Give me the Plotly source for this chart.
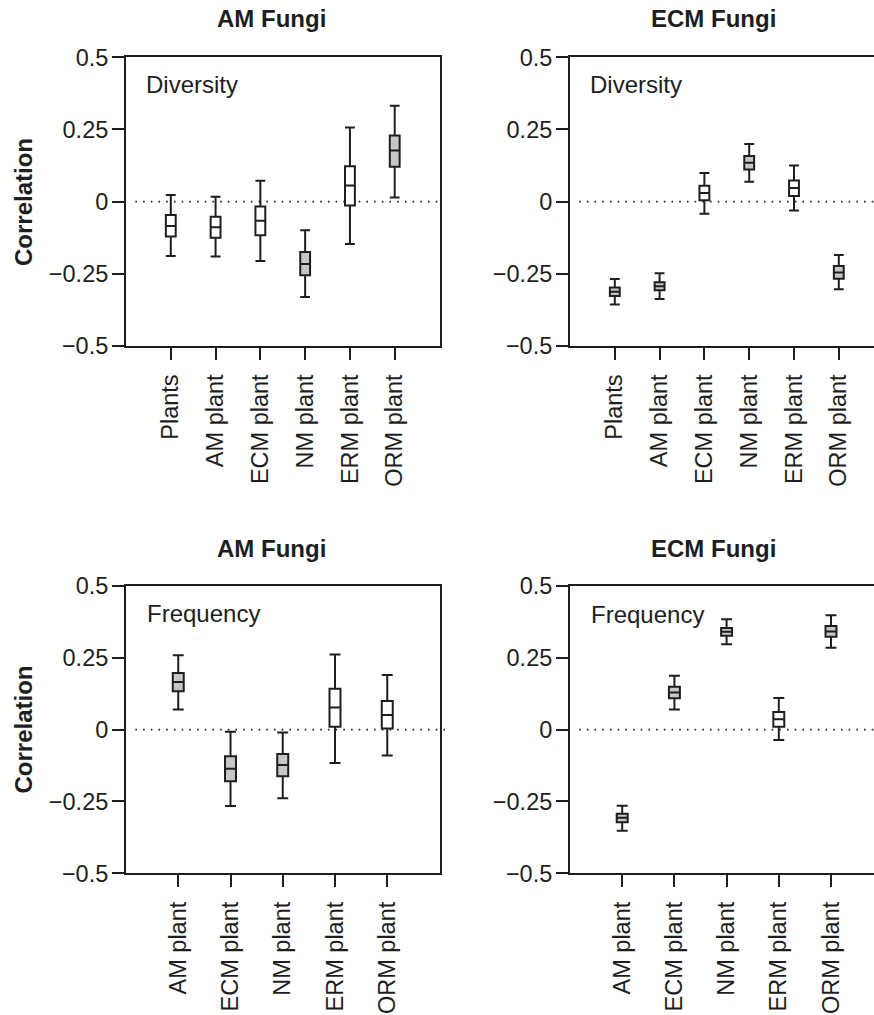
import plotly.graph_objects as go

# ---------------- data ----------------
top_cats = ["Plants", "AM plant", "ECM plant", "NM plant", "ERM plant", "ORM plant"]
bottom_cats = ["AM plant", "ECM plant", "NM plant", "ERM plant", "ORM plant"]

# AM Fungi - Diversity
am_div_low = [-0.188, -0.190, -0.206, -0.330, -0.147, 0.014]
am_div_q1 = [-0.121, -0.125, -0.116, -0.255, -0.013, 0.121]
am_div_med = [-0.084, -0.089, -0.066, -0.216, 0.056, 0.177]
am_div_q3 = [-0.046, -0.052, -0.017, -0.174, 0.123, 0.229]
am_div_high = [0.023, 0.017, 0.072, -0.099, 0.257, 0.332]
am_div_sig = [False, False, False, True, False, True]

# ECM Fungi - Diversity
ecm_div_low = [-0.356, -0.337, -0.042, 0.069, -0.031, -0.303]
ecm_div_q1 = [-0.327, -0.307, 0.005, 0.111, 0.020, -0.267]
ecm_div_med = [-0.312, -0.293, 0.030, 0.135, 0.047, -0.245]
ecm_div_q3 = [-0.297, -0.279, 0.055, 0.158, 0.073, -0.223]
ecm_div_high = [-0.268, -0.248, 0.099, 0.200, 0.125, -0.185]
ecm_div_sig = [True, True, False, True, False, True]

# AM Fungi - Frequency
am_freq_low = [0.070, -0.266, -0.239, -0.116, -0.090]
am_freq_q1 = [0.134, -0.180, -0.162, 0.010, 0.004]
am_freq_med = [0.166, -0.136, -0.123, 0.077, 0.051]
am_freq_q3 = [0.197, -0.093, -0.085, 0.142, 0.100]
am_freq_high = [0.259, -0.007, -0.010, 0.262, 0.190]
am_freq_sig = [True, True, True, False, False]

# ECM Fungi - Frequency
ecm_freq_low = [-0.352, 0.070, 0.297, -0.036, 0.285]
ecm_freq_q1 = [-0.322, 0.109, 0.327, 0.010, 0.323]
ecm_freq_med = [-0.307, 0.129, 0.341, 0.036, 0.342]
ecm_freq_q3 = [-0.293, 0.149, 0.354, 0.061, 0.361]
ecm_freq_high = [-0.265, 0.188, 0.384, 0.110, 0.398]
ecm_freq_sig = [True, True, True, False, True]

y_tickvals = [-0.5, -0.25, 0, 0.25, 0.5]
y_ticktext = ["\u22120.5", "\u22120.25", "0", "0.25", "0.5"]

# ---------------- layout helpers ----------------
W, H = 874, 1015
FONT = "Liberation Sans, Arial, Helvetica, sans-serif"
INK = "#1e1e1e"
GRAY = "#c6c6c6"


def px(x):
    return x / W


def py(y):
    return 1 - y / H


fig = go.Figure()

panels = [
    # (cats, low, q1, med, q3, high, sig, xaxis, yaxis, width)
    (top_cats, am_div_low, am_div_q1, am_div_med, am_div_q3, am_div_high, am_div_sig, "x", "y", 0.22),
    (top_cats, ecm_div_low, ecm_div_q1, ecm_div_med, ecm_div_q3, ecm_div_high, ecm_div_sig, "x2", "y2", 0.22),
    (bottom_cats, am_freq_low, am_freq_q1, am_freq_med, am_freq_q3, am_freq_high, am_freq_sig, "x3", "y3", 0.21),
    (bottom_cats, ecm_freq_low, ecm_freq_q1, ecm_freq_med, ecm_freq_q3, ecm_freq_high, ecm_freq_sig, "x4", "y4", 0.21),
]

for cats, low, q1, med, q3, high, sig, xa, ya, bw in panels:
    for i, c in enumerate(cats):
        fig.add_trace(go.Box(
            x=[c], q1=[q1[i]], median=[med[i]], q3=[q3[i]],
            lowerfence=[low[i]], upperfence=[high[i]],
            fillcolor=GRAY if sig[i] else "white",
            line=dict(color=INK, width=2),
            width=bw, whiskerwidth=1,
            boxpoints=False, showlegend=False, hoverinfo="skip",
            xaxis=xa, yaxis=ya,
        ))

# domains (pixel-measured)
xl = [px(126), px(439.5)]
xr = [px(570), 1.0]
yt = [py(346), py(57.3)]
yb = [py(873.3), py(586)]

axis_common = dict(
    showline=True, linecolor=INK, linewidth=2,
    ticks="outside", ticklen=12, tickwidth=2, tickcolor=INK,
    tickfont=dict(family=FONT, size=23.5, color=INK),
    showgrid=False, zeroline=False, automargin=False, fixedrange=True,
)

x_common = dict(axis_common, type="category", tickangle=-90, ticklabelstandoff=5)
y_common = dict(axis_common, range=[-0.5, 0.5], tickvals=y_tickvals, ticktext=y_ticktext,
                ticklabelstandoff=-1)

fig.update_layout(
    xaxis=dict(x_common, domain=xl, range=[-1, 6], categoryorder="array",
               categoryarray=top_cats, anchor="y", mirror=True),
    yaxis=dict(y_common, domain=yt, anchor="x", mirror=True),
    xaxis2=dict(x_common, domain=xr, range=[-1, (874 - 570) / 44.8 - 1], categoryorder="array",
                categoryarray=top_cats, anchor="y2", mirror=True),
    yaxis2=dict(y_common, domain=yt, anchor="x2", mirror=False),
    xaxis3=dict(x_common, domain=xl, range=[-1, 5], categoryorder="array",
                categoryarray=bottom_cats, anchor="y3", mirror=True),
    yaxis3=dict(y_common, domain=yb, anchor="x3", mirror=True),
    xaxis4=dict(x_common, domain=xr, range=[-1, (874 - 570) / 52.2 - 1], categoryorder="array",
                categoryarray=bottom_cats, anchor="y4", mirror=True),
    yaxis4=dict(y_common, domain=yb, anchor="x4", mirror=False),
    boxmode="overlay",
    width=W, height=H,
    margin=dict(l=0, r=0, t=0, b=0),
    paper_bgcolor="white", plot_bgcolor="white",
    font=dict(family=FONT, color=INK),
)

# dotted zero lines
for xa, ya, x1 in [("x", "y", 1.0), ("x2", "y2", 1.0), ("x3", "y3", 1.025), ("x4", "y4", 1.0)]:
    fig.add_shape(type="line", xref=f"{xa} domain", yref=ya, x0=0.03, x1=x1, y0=0, y1=0,
                  line=dict(color=INK, width=1.6, dash="1.6px,6.1px"), layer="below")

# titles and labels
ann = []
for xc, yc, t in [(271.5, 18.3, "AM Fungi"), (713, 18.3, "ECM Fungi"),
                  (271.5, 548, "AM Fungi"), (713, 548, "ECM Fungi")]:
    ann.append(dict(x=px(xc), y=py(yc), xref="paper", yref="paper", text=f"<b>{t}</b>",
                    showarrow=False, xanchor="center", yanchor="middle",
                    font=dict(family=FONT, size=24, color=INK)))
for yc in [202, 729.5]:
    ann.append(dict(x=px(23), y=py(yc), xref="paper", yref="paper", text="<b>Correlation</b>",
                    showarrow=False, xanchor="center", yanchor="middle", textangle=-90,
                    font=dict(family=FONT, size=24, color=INK)))
for xl_, yc, t in [(144, 84.7, "Diversity"), (587.5, 84.7, "Diversity"),
                   (144.5, 613.5, "Frequency"), (588.5, 614, "Frequency")]:
    ann.append(dict(x=px(xl_), y=py(yc), xref="paper", yref="paper", text=t,
                    showarrow=False, xanchor="left", yanchor="middle",
                    font=dict(family=FONT, size=24, color=INK)))
fig.update_layout(annotations=ann)

fig.write_html("out.html", config={"displayModeBar": False, "staticPlot": True},
               post_script="document.body.style.margin='0';document.body.style.overflow='hidden';")
